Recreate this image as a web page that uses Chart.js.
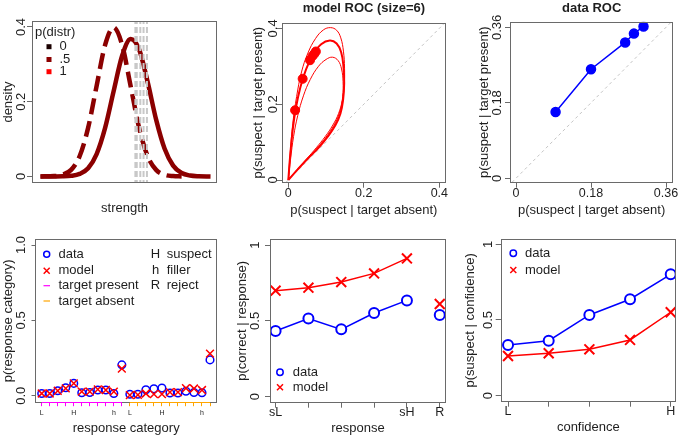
<!DOCTYPE html>
<html>
<head>
<meta charset="utf-8">
<script src="https://cdn.jsdelivr.net/npm/chart.js@4.4.0/dist/chart.umd.min.js"></script>
<style>
  body { margin: 0; background: #fff; width: 685px; height: 435px; overflow: hidden; position: relative; }
  canvas { position: absolute; }
</style>
</head>
<body>
<canvas id="p1"></canvas>
<canvas id="p2"></canvas>
<canvas id="p3"></canvas>
<canvas id="p4"></canvas>
<canvas id="p5"></canvas>
<canvas id="p6"></canvas>
<script>
// --- panel 1: strength densities ---
const targetX = [-4.3, -3.5, -3, -2.5, -2, -1.5, -1, -0.5, 0, 0.5, 1, 1.5, 2, 2.5, 3, 3.5, 4, 4.5, 5, 5.7];
const targetDensity = [0, 0.0001, 0.0003, 0.0016, 0.0067, 0.022, 0.06, 0.13, 0.228, 0.323, 0.368, 0.34, 0.253, 0.152, 0.074, 0.029, 0.009, 0.0023, 0.0005, 0];
const lureX = [-4.3, -3.5, -3, -2.5, -2, -1.5, -1, -0.5, 0, 0.5, 1, 1.5, 2, 2.5, 3, 3.5, 4];
const lureDensity = [0, 0.0009, 0.0044, 0.0175, 0.054, 0.13, 0.242, 0.352, 0.399, 0.352, 0.242, 0.13, 0.054, 0.0175, 0.0044, 0.0009, 0.0001];
const criteria = [1.28, 1.36, 1.57, 1.76, 1.96];
const distrLevels = ['0', '.5', '1'];
const distrColors = ['#1a0000', '#8b0000', '#ff0000'];

// --- panel 2: model ROC (size=6) ---
const outerX = [0, 0.005, 0.012, 0.022, 0.035, 0.052, 0.072, 0.093, 0.112, 0.128, 0.139, 0.146, 0.149, 0.148, 0.143, 0.133, 0.118, 0.098, 0.074, 0.048, 0.022, 0];
const outerY = [0, 0.07, 0.15, 0.22, 0.285, 0.335, 0.373, 0.396, 0.402, 0.395, 0.375, 0.34, 0.295, 0.25, 0.21, 0.175, 0.145, 0.115, 0.085, 0.055, 0.026, 0];
const middleX = [0, 0.005, 0.012, 0.02, 0.032, 0.047, 0.065, 0.087, 0.11, 0.128, 0.14, 0.146, 0.148, 0.145, 0.138, 0.125, 0.105, 0.08, 0.053, 0.025, 0];
const middleY = [0, 0.065, 0.135, 0.19, 0.245, 0.292, 0.33, 0.358, 0.368, 0.36, 0.337, 0.3, 0.255, 0.21, 0.175, 0.145, 0.115, 0.085, 0.058, 0.028, 0];
const innerX = [0, 0.006, 0.014, 0.025, 0.04, 0.058, 0.08, 0.1, 0.117, 0.132, 0.141, 0.145, 0.144, 0.138, 0.125, 0.105, 0.08, 0.053, 0.025, 0];
const innerY = [0, 0.055, 0.115, 0.17, 0.222, 0.265, 0.3, 0.318, 0.324, 0.315, 0.293, 0.26, 0.22, 0.185, 0.152, 0.12, 0.088, 0.058, 0.028, 0];
const modelRocX = [0.018, 0.038, 0.0575, 0.064, 0.069, 0.073];
const modelRocY = [0.184, 0.267, 0.316, 0.327, 0.333, 0.339];
const diagX = [-0.05, 0.5];

// --- panel 3: data ROC ---
const dataRocX = [0.095, 0.18, 0.262, 0.283, 0.306];
const dataRocY = [0.158, 0.26, 0.324, 0.345, 0.362];

// --- panel 4: response categories (target present 1-11, target absent 12-22) ---
const catLabels = ['L', '', '', '', 'H', '', '', '', '', 'h', '', 'L', '', '', '', 'H', '', '', '', '', 'h', ''];
const respData = [0.015, 0.015, 0.033, 0.053, 0.082, 0.02, 0.022, 0.038, 0.038, 0.015, 0.205, 0.01, 0.01, 0.04, 0.046, 0.051, 0.018, 0.018, 0.03, 0.022, 0.02, 0.238];
const respModel = [0.015, 0.015, 0.033, 0.049, 0.082, 0.027, 0.027, 0.042, 0.038, 0.027, 0.18, 0.004, 0.006, 0.015, 0.011, 0.011, 0.024, 0.024, 0.05, 0.048, 0.038, 0.28];

// --- panel 5: p(correct | response) ---
const respLabels = ['sL', '', '', '', 'sH', 'R'];
const corrData = [0.433, 0.516, 0.444, 0.552, 0.635, 0.538];
const corrModel = [0.699, 0.719, 0.756, 0.813, 0.912, 0.611];

// --- panel 6: p(suspect | confidence) ---
const confLabels = ['L', '', '', '', 'H'];
const suspData = [0.335, 0.363, 0.533, 0.637, 0.802];
const suspModel = [0.262, 0.28, 0.306, 0.368, 0.551];

const FONT = '"Liberation Sans", Arial, Helvetica, sans-serif';
const INK = '#1e1e1e';
const FRAME = '#6a6a6a';
const RED = '#ff0000';
const BLUE = '#0000ff';
const DARKRED = '#8b0000';
const TP_COL = '#ff00ff';
const TA_COL = '#ffa500';

function xy(xs, ys) { return xs.map((x, i) => ({ x: x, y: ys[i] })); }
function idx(ys) { return ys.map((y, i) => ({ x: i + 1, y: y })); }

function vtext(ctx, txt, x, y) {
  ctx.save();
  ctx.translate(x, y);
  ctx.rotate(-Math.PI / 2);
  ctx.fillText(txt, 0, 0);
  ctx.restore();
}

function symCircle(ctx, x, y, r, col) {
  ctx.strokeStyle = col; ctx.lineWidth = 1.5;
  ctx.beginPath(); ctx.arc(x, y, r, 0, Math.PI * 2); ctx.stroke();
}
function symCross(ctx, x, y, r, col) {
  ctx.strokeStyle = col; ctx.lineWidth = 1.5;
  ctx.beginPath();
  ctx.moveTo(x - r, y - r); ctx.lineTo(x + r, y + r);
  ctx.moveTo(x + r, y - r); ctx.lineTo(x - r, y + r);
  ctx.stroke();
}

// frame, tick labels, titles drawn R style
function rPlugin(p) {
  return {
    id: 'rstyle',
    afterDraw(chart) {
      const { ctx, chartArea: a, scales } = chart;
      const ox = p.cell[0], oy = p.cell[1];
      ctx.save();
      ctx.strokeStyle = FRAME;
      ctx.lineWidth = 1;
      ctx.strokeRect(Math.round(a.left) + 0.5, Math.round(a.top) + 0.5,
        Math.round(a.right - a.left) - 1, Math.round(a.bottom - a.top) - 1);
      if (p.extraBelow) p.extraBelow(ctx, chart, ox, oy);
      ctx.fillStyle = INK;
      ctx.textAlign = 'center';
      ctx.textBaseline = 'middle';
      ctx.font = (p.xTickFont || '12.5px') + ' ' + FONT;
      (p.xTicks || []).forEach(t => {
        if (t[1]) ctx.fillText(t[1], scales.x.getPixelForValue(t[0]), p.xTickY - oy);
      });
      ctx.font = '13px ' + FONT;
      p.yTicks.forEach(t => vtext(ctx, t[1], p.yTickX - ox, scales.y.getPixelForValue(t[0])));
      ctx.fillText(p.xTitle, (a.left + a.right) / 2, p.xTitleY - oy);
      vtext(ctx, p.yTitle, p.yTitleX - ox, (a.top + a.bottom) / 2);
      if (p.title) {
        ctx.font = 'bold 13px ' + FONT;
        ctx.fillText(p.title, (a.left + a.right) / 2, p.titleY - oy);
      }
      if (p.extra) p.extra(ctx, chart, ox, oy);
      ctx.restore();
    }
  };
}

function makePanel(id, p, datasets) {
  const cv = document.getElementById(id);
  cv.width = p.cell[2];
  cv.height = p.cell[3];
  cv.style.left = p.cell[0] + 'px';
  cv.style.top = p.cell[1] + 'px';
  const TL = p.tickLen || 5;
  const pad = {
    left: p.box[0] - p.cell[0] - TL,
    top: p.box[1] - p.cell[1],
    right: p.cell[0] + p.cell[2] - p.box[2],
    bottom: p.cell[1] + p.cell[3] - p.box[3] - TL
  };
  return new Chart(cv, {
    type: 'scatter',
    data: { datasets: datasets },
    options: {
      responsive: false,
      animation: false,
      devicePixelRatio: 1,
      layout: { padding: pad },
      plugins: { legend: { display: false }, tooltip: { enabled: false } },
      scales: {
        x: {
          type: 'linear', min: p.x[0], max: p.x[1],
          afterFit: s => { s.height = TL; },
          afterBuildTicks: s => { s.ticks = (p.xTicks || []).map(t => ({ value: t[0] })); },
          ticks: { display: false },
          grid: { display: !!p.xTicks, drawOnChartArea: false, tickLength: TL, tickColor: p.xTickColor || FRAME, lineWidth: 1 },
          border: { display: false }
        },
        y: {
          type: 'linear', min: p.y[0], max: p.y[1],
          afterFit: s => { s.width = TL; },
          afterBuildTicks: s => { s.ticks = p.yTicks.map(t => ({ value: t[0] })); },
          ticks: { display: false },
          grid: { drawOnChartArea: false, tickLength: TL, tickColor: FRAME, lineWidth: 1 },
          border: { display: false }
        }
      }
    },
    plugins: [rPlugin(p)]
  });
}

// panel 1
makePanel('p1', {
  cell: [0, 0, 230, 218], box: [32, 21, 217, 183],
  x: [-4.8, 6.08], y: [-0.0176, 0.416],
  yTicks: [[0, '0'], [0.2, '0.2'], [0.4, '0.4']], yTickX: 21.7,
  xTitle: 'strength', xTitleY: 208, yTitle: 'density', yTitleX: 8,
  extra(ctx, chart, ox, oy) {
    ctx.textAlign = 'left';
    ctx.font = '13px ' + FONT;
    ctx.fillText('p(distr)', 35 - ox, 32.5 - oy);
    const rows = [46.7, 59.5, 71.7];
    distrLevels.forEach((lab, i) => {
      ctx.fillStyle = distrColors[i];
      ctx.fillRect(46.5 - ox, rows[i] - 2.5 - oy, 5, 5);
      ctx.fillStyle = INK;
      ctx.fillText(lab, 59.5 - ox, rows[i] - oy);
    });
  }
}, [
  ...criteria.map(c => ({
    data: [{ x: c, y: -0.05 }, { x: c, y: 0.45 }],
    showLine: true, pointRadius: 0, borderColor: '#c8c8c8', borderWidth: 2,
    borderDash: [6, 3], order: 0
  })),
  {
    data: xy(targetX, targetDensity), showLine: true, pointRadius: 0,
    borderColor: DARKRED, borderWidth: 4.5, cubicInterpolationMode: 'monotone', order: 2
  },
  {
    data: xy(lureX, lureDensity), showLine: true, pointRadius: 0,
    borderColor: DARKRED, borderWidth: 4.5, borderDash: [16, 7], cubicInterpolationMode: 'monotone', order: 1
  }
]);

// panel 2
makePanel('p2', {
  cell: [230, 0, 225, 218], box: [281.7, 22.7, 446, 182.7],
  x: [-0.0175, 0.4177], y: [-0.0071, 0.415],
  xTicks: [[0, '0'], [0.2, '0.2'], [0.4, '0.4']], xTickY: 193.5,
  yTicks: [[0, '0'], [0.2, '0.2'], [0.4, '0.4']], yTickX: 273.3,
  xTitle: 'p(suspect | target absent)', xTitleY: 210,
  yTitle: 'p(suspect | target present)', yTitleX: 258.3,
  title: 'model ROC (size=6)', titleY: 8
}, [
  { data: xy(diagX, diagX), showLine: true, pointRadius: 0, borderColor: '#c4c4c4', borderWidth: 1, borderDash: [3, 3], order: 5 },
  { data: xy(outerX, outerY), showLine: true, pointRadius: 0, borderColor: RED, borderWidth: 1, tension: 0.4, order: 4 },
  { data: xy(middleX, middleY), showLine: true, pointRadius: 0, borderColor: RED, borderWidth: 2, tension: 0.4, order: 3 },
  { data: xy(innerX, innerY), showLine: true, pointRadius: 0, borderColor: RED, borderWidth: 1, tension: 0.4, order: 2 },
  { data: xy(modelRocX, modelRocY), showLine: false, pointRadius: 4.5, pointBackgroundColor: RED, pointBorderColor: RED, order: 1 }
]);

// panel 3
makePanel('p3', {
  cell: [455, 0, 230, 218], box: [510, 21.7, 673.3, 182.7],
  x: [-0.0144, 0.3775], y: [-0.0105, 0.3734],
  xTicks: [[0, '0'], [0.18, '0.18'], [0.36, '0.36']], xTickY: 193.5,
  yTicks: [[0, '0'], [0.18, '0.18'], [0.36, '0.36']], yTickX: 497.7,
  xTitle: 'p(suspect | target absent)', xTitleY: 210,
  yTitle: 'p(suspect | target present)', yTitleX: 484.3,
  title: 'data ROC', titleY: 8
}, [
  { data: xy(diagX, diagX), showLine: true, pointRadius: 0, borderColor: '#c4c4c4', borderWidth: 1, borderDash: [3, 3], order: 2 },
  { data: xy(dataRocX, dataRocY), showLine: true, pointRadius: 4.5, borderColor: BLUE, borderWidth: 1.5,
    pointBackgroundColor: BLUE, pointBorderColor: BLUE, order: 1 }
]);

// panel 4
makePanel('p4', {
  cell: [0, 218, 230, 217], box: [35, 239, 217.3, 402.7], tickLen: 3.5,
  x: [0.164, 22.91], y: [-0.046, 1.04],
  xTicks: catLabels.map((l, i) => [i + 1, l]), xTickY: 412.7, xTickFont: '7px',
  xTickColor: c => (c.index < 11 ? TP_COL : TA_COL),
  yTicks: [[0, '0.0'], [0.5, '0.5'], [1, '1.0']], yTickX: 21.7,
  xTitle: 'response category', xTitleY: 428,
  yTitle: 'p(response category)', yTitleX: 8.3,
  extraBelow(ctx, chart, ox, oy) {
    const sx = chart.scales.x, b = Math.round(chart.chartArea.bottom) - 0.5;
    ctx.lineWidth = 1;
    ctx.strokeStyle = TP_COL;
    ctx.beginPath(); ctx.moveTo(sx.getPixelForValue(1), b); ctx.lineTo(sx.getPixelForValue(11), b); ctx.stroke();
    ctx.strokeStyle = TA_COL;
    ctx.beginPath(); ctx.moveTo(sx.getPixelForValue(12), b); ctx.lineTo(sx.getPixelForValue(22), b); ctx.stroke();
  },
  extra(ctx, chart, ox, oy) {
    ctx.font = '13px ' + FONT;
    ctx.textAlign = 'left';
    const rows = [254.3, 270.7, 285.7, 301];
    symCircle(ctx, 46.7 - ox, rows[0] - oy, 3, BLUE);
    symCross(ctx, 46.7 - ox, rows[1] - oy, 3, RED);
    ctx.lineWidth = 1.2;
    ctx.strokeStyle = TP_COL;
    ctx.beginPath(); ctx.moveTo(43.5 - ox, rows[2] - oy); ctx.lineTo(50 - ox, rows[2] - oy); ctx.stroke();
    ctx.strokeStyle = TA_COL;
    ctx.beginPath(); ctx.moveTo(43.5 - ox, rows[3] - oy); ctx.lineTo(50 - ox, rows[3] - oy); ctx.stroke();
    ctx.fillStyle = INK;
    ['data', 'model', 'target present', 'target absent'].forEach((t, i) => ctx.fillText(t, 58.5 - ox, rows[i] - oy));
    ['suspect', 'filler', 'reject'].forEach((t, i) => ctx.fillText(t, 166.7 - ox, rows[i] - oy));
    ctx.textAlign = 'center';
    ['H', 'h', 'R'].forEach((t, i) => ctx.fillText(t, 155.5 - ox, rows[i] - oy));
  }
}, [
  { data: idx(respData), pointStyle: 'circle', pointRadius: 3.8, pointBorderWidth: 1.5,
    pointBorderColor: BLUE, pointBackgroundColor: 'rgba(0,0,0,0)', order: 2 },
  { data: idx(respModel), pointStyle: 'crossRot', pointRadius: 5.5, pointBorderWidth: 1.5,
    pointBorderColor: RED, order: 1 }
]);

// panel 5
const hideR = c => (c.p1DataIndex === 5 ? 'rgba(0,0,0,0)' : undefined);
makePanel('p5', {
  cell: [230, 218, 225, 217], box: [270, 239, 450, 402.7],
  x: [0.83, 6.19], y: [-0.04, 1.04],
  xTicks: respLabels.map((l, i) => [i + 1, l]), xTickY: 412.7,
  yTicks: [[0, '0'], [0.5, '0.5'], [1, '1']], yTickX: 255,
  xTitle: 'response', xTitleY: 428,
  yTitle: 'p(correct | response)', yTitleX: 242,
  extra(ctx, chart, ox, oy) {
    symCircle(ctx, 280 - ox, 372.3 - oy, 3.2, BLUE);
    symCross(ctx, 280 - ox, 387.3 - oy, 3, RED);
    ctx.font = '13px ' + FONT;
    ctx.textAlign = 'left';
    ctx.fillStyle = INK;
    ctx.fillText('data', 292.7 - ox, 372.3 - oy);
    ctx.fillText('model', 292.7 - ox, 387.3 - oy);
  }
}, [
  { data: idx(corrData), showLine: true, borderColor: BLUE, borderWidth: 1.5, segment: { borderColor: hideR },
    pointStyle: 'circle', pointRadius: 5, pointBorderWidth: 2, pointBorderColor: BLUE, pointBackgroundColor: '#fff', order: 1 },
  { data: idx(corrModel), showLine: true, borderColor: RED, borderWidth: 1.5, segment: { borderColor: hideR },
    pointStyle: 'crossRot', pointRadius: 7, pointBorderWidth: 2, pointBorderColor: RED, order: 2 }
]);

// panel 6
makePanel('p6', {
  cell: [455, 218, 230, 217], box: [500.7, 239, 682.3, 401.7],
  x: [0.82, 5.13], y: [-0.04, 1.035],
  xTicks: confLabels.map((l, i) => [i + 1, l]), xTickY: 411.7,
  yTicks: [[0, '0'], [0.5, '0.5'], [1, '1']], yTickX: 488.3,
  xTitle: 'confidence', xTitleY: 427,
  yTitle: 'p(suspect | confidence)', yTitleX: 470,
  extra(ctx, chart, ox, oy) {
    symCircle(ctx, 513.3 - ox, 253.3 - oy, 3.2, BLUE);
    symCross(ctx, 513.3 - ox, 270 - oy, 3, RED);
    ctx.font = '13px ' + FONT;
    ctx.textAlign = 'left';
    ctx.fillStyle = INK;
    ctx.fillText('data', 525 - ox, 253.3 - oy);
    ctx.fillText('model', 525 - ox, 270 - oy);
  }
}, [
  { data: idx(suspData), showLine: true, borderColor: BLUE, borderWidth: 1.5,
    pointStyle: 'circle', pointRadius: 5, pointBorderWidth: 2, pointBorderColor: BLUE, pointBackgroundColor: '#fff', order: 1 },
  { data: idx(suspModel), showLine: true, borderColor: RED, borderWidth: 1.5,
    pointStyle: 'crossRot', pointRadius: 7, pointBorderWidth: 2, pointBorderColor: RED, order: 2 }
]);
</script>
</body>
</html>
